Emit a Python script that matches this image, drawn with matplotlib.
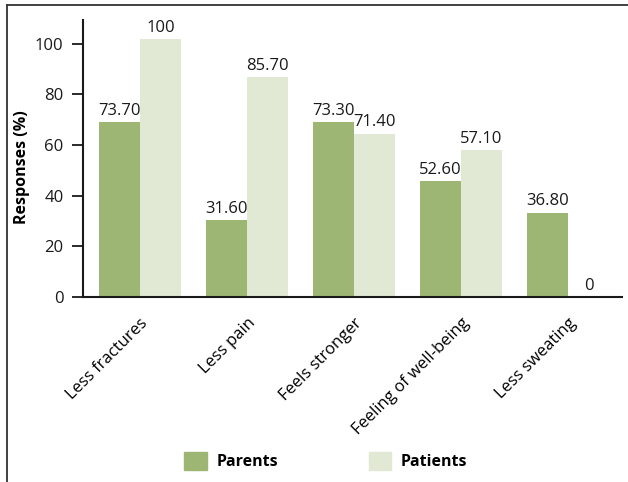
import matplotlib
matplotlib.use('Agg')
import matplotlib.pyplot as plt
import numpy as np
from matplotlib.lines import Line2D
from matplotlib.patches import Patch

plt.rcParams['font.family'] = ['Open Sans', 'DejaVu Sans']

categories = ['Less fractures', 'Less pain', 'Feels stronger', 'Feeling of well-being', 'Less sweating']
# bar heights as drawn in the picture
parents = [68.9, 30.3, 68.9, 45.7, 33.2]
patients = [101.7, 86.7, 64.5, 57.9, 0]
# value labels printed above the bars
parents_lbl = ['73.70', '31.60', '73.30', '52.60', '36.80']
patients_lbl = ['100', '85.70', '71.40', '57.10', '0']

c_par = '#9db673'
c_pat = '#e1e9d4'

W, H = 628, 482
fig = plt.figure(figsize=(W / 100, H / 100), dpi=100)
ax = fig.add_axes([83 / W, 1 - 297 / H, (622 - 83) / W, (297 - 20) / H])

x = np.arange(len(categories))
bw = 0.383
b1 = ax.bar(x - bw / 2, parents, bw, color=c_par)
b2 = ax.bar(x + bw / 2, patients, bw, color=c_pat)

for bars, lbls in ((b1, parents_lbl), (b2, patients_lbl)):
    for r, t in zip(bars, lbls):
        ax.annotate(t, (r.get_x() + r.get_width() / 2, r.get_height()),
                    xytext=(0, 2.5), textcoords='offset points',
                    ha='center', va='bottom', fontsize=12, color='#1a1a1a')

ax.set_xlim(-0.533, 4.505)
ax.set_ylim(0, 109.3)
ax.set_yticks([0, 20, 40, 60, 80, 100])
ax.tick_params(axis='y', length=8, width=1.3, labelsize=12, pad=6, colors='#1a1a1a')
ax.tick_params(axis='x', length=0, pad=13)
ax.set_xticks(x)
ax.set_xticklabels(categories, rotation=45, ha='right', rotation_mode='anchor', fontsize=12)
for s in ['top', 'right']:
    ax.spines[s].set_visible(False)
for s in ['left', 'bottom']:
    ax.spines[s].set_linewidth(1.5)
    ax.spines[s].set_color('#1a1a1a')
ax.set_ylabel('Responses (%)', fontsize=11.5, fontweight='bold')
ax.yaxis.set_label_coords(-0.098, 0.47)

handles = [Patch(color=c_par, label='Parents'), Patch(color=c_pat, label='Patients')]
fig.legend(handles=handles, loc='center', bbox_to_anchor=(326 / W, 1 - 461 / H), ncol=2,
           frameon=False, prop={'weight': 'bold', 'size': 11.5},
           handlelength=1.4, handleheight=1.4, handletextpad=0.6, columnspacing=5.7)

# outer frame: top and left edges
fig.add_artist(Line2D([7 / W, 1], [1 - 5 / H, 1 - 5 / H], color='#333333', lw=1.3))
fig.add_artist(Line2D([7 / W, 7 / W], [0, 1 - 5 / H], color='#333333', lw=1.3))

fig.savefig('out.png', dpi=100)
